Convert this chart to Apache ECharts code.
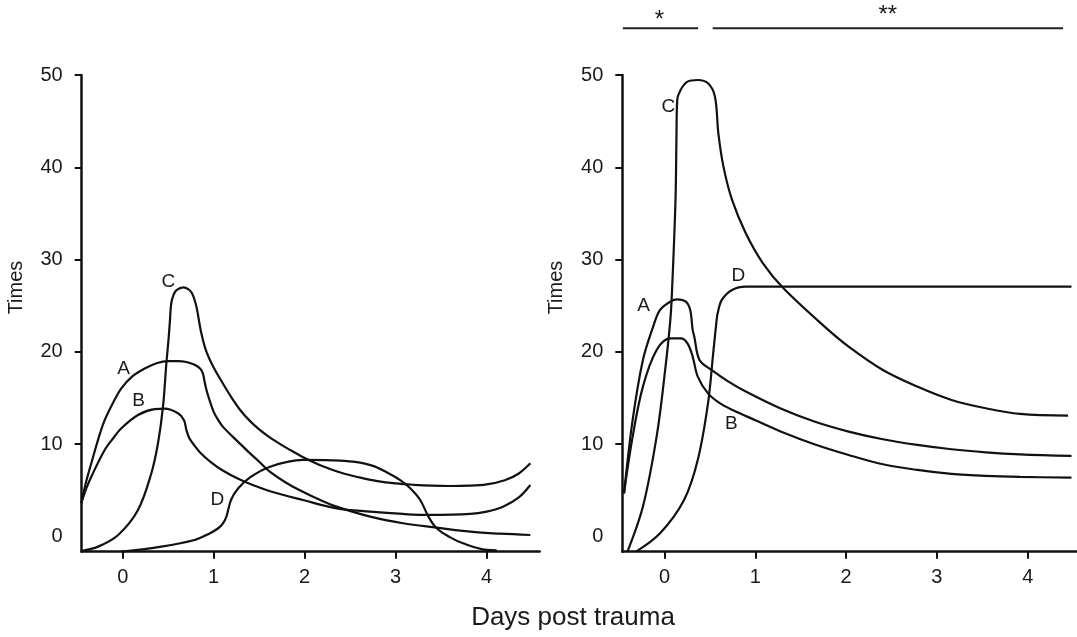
<!DOCTYPE html>
<html><head><meta charset="utf-8">
<script src="https://cdn.jsdelivr.net/npm/echarts@6/dist/echarts.min.js"></script>
<style>html,body{margin:0;padding:0;background:#fff}#c{width:1077px;height:637px}</style>
</head><body><div id="c"></div>
<script>
// ---- tick values ----
const yLabelValues = [0, 10, 20, 30, 40, 50];
const yTickValues = [10, 20, 30, 40, 50];
const xTickValues = [0, 1, 2, 3, 4];

// ---- left panel series [day, times] ----
const leftA = [[-0.455,3.6],[-0.4,6.0],[-0.345,7.93],[-0.27,10.5],[-0.198,12.6],[-0.1,14.6],[-0.015,16.05],[0.1,17.3],[0.242,18.2],[0.38,18.8],[0.498,19.0],[0.608,19.0],[0.7,18.9],[0.79,18.6],[0.85,18.2],[0.88,17.7],[0.9,16.8],[0.92,15.9],[0.96,14.6],[1.0,13.5],[1.05,12.6],[1.1,11.9],[1.2,10.9],[1.3,9.95],[1.4,9.0],[1.5,8.1],[1.62,7.0],[1.8,5.8],[1.98,4.85],[2.16,4.0],[2.35,3.23],[2.72,2.15],[3.08,1.43],[3.45,0.96],[3.82,0.52],[4.15,0.3],[4.48,0.16]];
const leftB = [[-0.455,3.6],[-0.4,5.2],[-0.345,6.48],[-0.198,9.37],[-0.1,10.7],[-0.015,11.72],[0.168,13.16],[0.352,13.8],[0.46,13.85],[0.608,13.35],[0.674,12.6],[0.70,11.54],[0.73,10.7],[0.77,10.1],[0.85,9.1],[0.975,8.0],[1.1,7.15],[1.27,6.25],[1.45,5.5],[1.62,4.9],[1.98,3.95],[2.35,3.05],[2.72,2.69],[3.08,2.44],[3.38,2.33],[3.82,2.44],[4.0,2.7],[4.18,3.23],[4.35,4.2],[4.48,5.58]];
const leftC = [[-0.455,-1.57],[-0.27,-1.1],[-0.05,0.16],[0.168,2.87],[0.315,6.85],[0.388,10.1],[0.443,14.06],[0.48,18.76],[0.505,21.5],[0.52,23.5],[0.534,25.3],[0.56,26.2],[0.591,26.7],[0.667,27.0],[0.72,26.8],[0.762,26.35],[0.8,25.3],[0.819,24.5],[0.857,22.37],[0.914,20.2],[1.0,18.3],[1.1,16.6],[1.2,15.0],[1.3,13.6],[1.4,12.5],[1.5,11.6],[1.6,10.85],[1.7,10.2],[1.8,9.6],[1.9,9.05],[2.0,8.5],[2.2,7.6],[2.4,6.9],[2.6,6.4],[2.8,6.0],[3.0,5.75],[3.2,5.6],[3.4,5.5],[3.6,5.47],[3.8,5.5],[4.0,5.65],[4.2,6.1],[4.35,6.8],[4.48,7.93]];
const leftD = [[-0.015,-1.65],[0.424,-1.1],[0.79,-0.38],[0.95,0.3],[1.05,0.89],[1.1,1.4],[1.14,2.15],[1.19,3.95],[1.27,5.22],[1.4,6.4],[1.62,7.56],[1.98,8.29],[2.3,8.25],[2.53,8.1],[2.75,7.65],[2.9,6.95],[3.05,6.1],[3.16,5.22],[3.27,3.95],[3.36,2.15],[3.45,0.89],[3.6,-0.1],[3.74,-0.74],[4.0,-1.46],[4.11,-1.5]];

// ---- right panel series [day, times] ----
const rightA = [[-0.446,4.68],[-0.351,12.63],[-0.238,19.13],[-0.125,22.74],[-0.049,24.54],[0.064,25.45],[0.14,25.7],[0.234,25.45],[0.283,24.54],[0.31,22.38],[0.328,21.65],[0.385,19.13],[0.517,18.04],[0.7,16.8],[0.895,15.7],[1.273,13.89],[1.65,12.45],[2.028,11.36],[2.405,10.53],[2.783,9.92],[3.161,9.45],[3.538,9.12],[3.916,8.9],[4.482,8.73]];
const rightB = [[-0.446,4.68],[-0.351,10.82],[-0.238,16.24],[-0.087,20.21],[0.064,21.47],[0.177,21.47],[0.253,20.93],[0.31,19.49],[0.366,17.32],[0.479,15.5],[0.6,14.5],[0.75,13.7],[1.0,12.6],[1.3,11.3],[1.65,10.0],[2.028,8.83],[2.405,7.82],[2.783,7.21],[3.161,6.78],[3.538,6.56],[3.916,6.45],[4.482,6.38]];
const rightC = [[-0.408,-1.64],[-0.238,3.24],[-0.087,10.82],[0.007,18.04],[0.064,23.46],[0.083,26.71],[0.121,36.46],[0.132,43.68],[0.14,47.3],[0.177,48.38],[0.253,49.28],[0.366,49.46],[0.479,49.1],[0.555,47.66],[0.593,43.68],[0.649,40.07],[0.744,36.46],[0.895,32.85],[1.084,29.6],[1.31,26.89],[1.763,22.74],[2.028,20.57],[2.405,18.04],[2.783,16.24],[3.161,14.79],[3.538,13.89],[3.916,13.28],[4.445,13.1]];
const rightD = [[-0.314,-1.64],[-0.049,0.35],[0.215,3.96],[0.366,8.29],[0.479,14.43],[0.536,19.85],[0.574,23.46],[0.585,24.18],[0.631,25.63],[0.744,26.71],[0.895,27.07],[4.482,27.07]];

// ---- curve labels [text, day, times] ----
const leftLabels = [['A',0.01,18.2],['B',0.176,14.7],['C',0.503,27.6],['D',1.04,4.03]];
const rightLabels = [['A',-0.231,24.98],['B',0.736,12.19],['C',0.042,46.57],['D',0.812,28.23]];

// ---- significance bars (right panel, in days) ----
const sigRanges = [[-0.46,0.37],[0.53,4.39]];
const sigMarks = ['*','**'];

const FONT = '"Liberation Sans", Arial, Helvetica, sans-serif';
const TXT = '#1a1a1a';

function xAxisCfg(idx, min, max){
  return {type:'value', gridIndex:idx, min:min, max:max,
    axisLine:{onZero:false, lineStyle:{color:'#111', width:2.5}},
    axisTick:{customValues:xTickValues, length:7, lineStyle:{color:'#111', width:2}},
    axisLabel:{customValues:xTickValues, margin:16, fontSize:20, color:TXT, fontFamily:FONT},
    splitLine:{show:false}};
}
function yAxisCfg(idx){
  return {type:'value', gridIndex:idx, min:-1.65, max:50,
    axisLine:{show:true, onZero:false, lineStyle:{color:'#111', width:2.5}},
    axisTick:{show:true, customValues:yTickValues, length:7, lineStyle:{color:'#111', width:2}},
    axisLabel:{customValues:yLabelValues, margin:19, fontSize:20, color:TXT, fontFamily:FONT},
    splitLine:{show:false}};
}
function lineSeries(data, idx){
  return {type:'line', data:data, xAxisIndex:idx, yAxisIndex:idx, showSymbol:false,
    smooth:0.35,
    lineStyle:{color:'#111', width:2.2}, silent:true, z:3};
}

const chart = echarts.init(document.getElementById('c'), null, {renderer:'canvas'});
chart.setOption({
  animation:false,
  backgroundColor:'#fff',
  grid:[
    {left:81.7, top:75, width:458, height:476.7},
    {left:622.3, top:75, width:454.7, height:476.7}
  ],
  xAxis:[xAxisCfg(0,-0.4505,4.583), xAxisCfg(1,-0.465,4.543)],
  yAxis:[yAxisCfg(0), yAxisCfg(1)],
  series:[
    lineSeries(leftA,0), lineSeries(leftB,0), lineSeries(leftC,0), lineSeries(leftD,0),
    lineSeries(rightA,1), lineSeries(rightB,1), lineSeries(rightC,1), lineSeries(rightD,1)
  ]
});

const g = [];
function txt(text, x, y, size, rot){
  const o = {type:'text', x:x, y:y, z:10,
    style:{text:text, fontSize:size, fontFamily:FONT, fill:TXT, textAlign:'center', textVerticalAlign:'middle'}};
  if (rot) o.rotation = rot;
  return o;
}
g.push(txt('Times', 16.5, 287.5, 20, Math.PI/2));
g.push(txt('Times', 556, 287.5, 20, Math.PI/2));
g.push(txt('Days post trauma', 573, 618, 26));
[[leftLabels,0],[rightLabels,1]].forEach(([labels, idx]) => {
  labels.forEach(l => {
    const p = chart.convertToPixel({xAxisIndex:idx, yAxisIndex:idx}, [l[1], l[2]]);
    g.push(txt(l[0], p[0], p[1], 19));
  });
});
const starY = [20, 15];
sigRanges.forEach((r, i) => {
  const x1 = chart.convertToPixel({xAxisIndex:1}, r[0]);
  const x2 = chart.convertToPixel({xAxisIndex:1}, r[1]);
  g.push({type:'line', shape:{x1:x1, y1:28.3, x2:x2, y2:28.3}, style:{stroke:'#222', lineWidth:2}});
  g.push(txt(sigMarks[i], (x1+x2)/2 + (i===1 ? 0 : -1), starY[i], 24));
});
chart.setOption({graphic:g});
</script>
</body></html>
